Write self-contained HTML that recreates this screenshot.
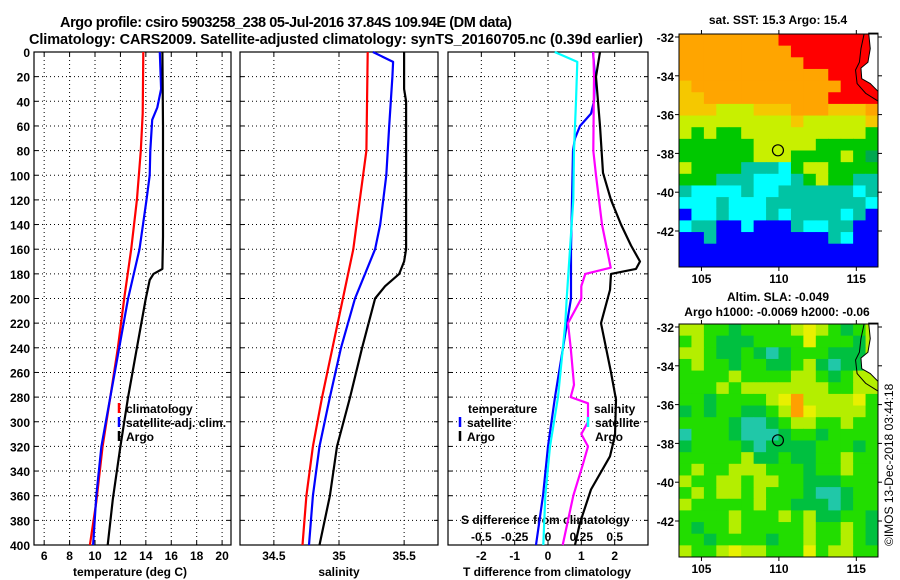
<!DOCTYPE html>
<html><head><meta charset="utf-8"><style>
html,body{margin:0;padding:0;background:#fff;width:900px;height:580px;overflow:hidden}
svg text{font-family:"Liberation Sans",Arial,sans-serif;font-weight:bold;fill:#000}
</style></head><body>
<svg id="chart" width="900" height="580" viewBox="0 0 900 580" xmlns="http://www.w3.org/2000/svg">
<text x="286" y="27" font-size="14.5" text-anchor="middle" textLength="452">Argo profile: csiro 5903258_238 05-Jul-2016 37.84S 109.94E (DM data)</text>
<text x="336" y="44" font-size="14.5" text-anchor="middle" textLength="614">Climatology: CARS2009. Satellite-adjusted climatology: synTS_20160705.nc (0.39d earlier)</text>
<text x="778" y="24" font-size="12" text-anchor="middle">sat. SST: 15.3 Argo: 15.4</text>
<text x="778" y="301" font-size="12" text-anchor="middle">Altim. SLA: -0.049</text>
<text x="777" y="316" font-size="12" text-anchor="middle">Argo h1000: -0.0069 h2000: -0.06</text>
<text transform="translate(893,546) rotate(-90)" font-size="12" style="font-weight:normal">©IMOS 13-Dec-2018 03:44:18</text>
<text x="130" y="576" font-size="12" text-anchor="middle">temperature (deg C)</text>
<text x="339" y="576" font-size="12" text-anchor="middle">salinity</text>
<text x="547" y="576" font-size="12" text-anchor="middle">T difference from climatology</text>
<text x="461" y="524" font-size="12">S difference from climatology</text>
</svg>
<script>
// ---------- data ----------
const depthTicks=[0,20,40,60,80,100,120,140,160,180,200,220,240,260,280,300,320,340,360,380,400];
const tTicks=[6,8,10,12,14,16,18,20];
const sTicks=[34.5,35,35.5];
const dtTicks=[-2,-1,0,1,2];
const dsTickLabels=["-0.5","-0.25","0","0.25","0.5"];
const dsTicks=[-0.5,-0.25,0,0.25,0.5];

const climTDepth=[0,50,80,120,160,200,240,280,320,365,400];
const climT=[13.8,13.75,13.6,13.3,12.85,12.3,11.8,11.2,10.6,10.1,9.6];
const satTDepth=[0,30,45,55,80,100,120,160,200,240,280,320,360,400];
const satT=[15.1,15.2,14.9,14.5,14.35,14.3,14.05,13.5,12.6,11.9,11.2,10.5,10.1,9.85];
const argoTDepth=[0,60,120,150,176,180,185,200,240,280,320,363,400];
const argoT=[15.3,15.35,15.35,15.35,15.3,14.6,14.3,14.0,13.3,12.6,12.0,11.4,11.0];

const climSDepth=[0,80,120,160,200,240,280,320,360,400];
const climS=[35.22,35.21,35.16,35.11,35.03,34.95,34.87,34.8,34.75,34.72];
const satSDepth=[0,8,20,60,100,140,160,200,240,280,320,360,400];
const satS=[35.26,35.415,35.41,35.385,35.363,35.316,35.277,35.123,35.015,34.93,34.85,34.8,34.77];
const argoSDepth=[0,30,40,160,170,180,190,200,240,280,320,360,400];
const argoS=[35.5,35.5,35.515,35.515,35.5,35.462,35.354,35.277,35.177,35.085,34.985,34.93,34.85];

const dTsatDepth=[0,20,40,50,60,70,80,120,160,200,240,280,320,360,400];
const dTsat=[1.35,1.41,1.38,1.29,0.96,0.81,0.75,0.72,0.69,0.69,0.45,0.21,0.0,-0.15,-0.36];
const dTargoDepth=[0,20,60,98,120,140,157,170,176,180,193,220,260,282,311,328,355,382,400];
const dTargo=[1.56,1.44,1.56,1.65,1.89,2.19,2.49,2.76,2.64,1.89,1.86,1.59,1.89,2.04,2.01,1.86,1.29,0.96,0.81];
const dSsatDepth=[0,8,40,80,120,160,200,220,280,320,360,400];
const dSsat=[0.05,0.22,0.21,0.195,0.19,0.165,0.14,0.13,0.075,0.015,-0.02,-0.035];
const dSargoDepth=[0,20,80,100,140,175,180,190,200,220,240,270,280,285,300,310,320,335,360,400];
const dSargo=[0.34,0.345,0.34,0.36,0.405,0.47,0.28,0.25,0.25,0.15,0.17,0.195,0.17,0.30,0.30,0.25,0.30,0.26,0.19,0.11];

// SST map (rows north->south, cols west->east), 103.6..116.4E, -32..-43.9
const sstRows=[
"OOOOOOOORRRRRRRR","OOOOOOOOORRRRRRR","OOOOOOOOOORRRRRR","OOOOOOOOOOOORRRR",
"YOOOOOOOOOOOORRR","YYOOOOOOOOOORRRR","YYYLLLYYYOOOYYYO","LLLLLLLLLYLLLLLY",
"LGLGGLLLLLLLLLLG","GGGGGGLLLLLGGGGG","GGGGGGLLLGGGGLGD","LGGGGTTTCGLLGGGG",
"GGGTTTCCCTGLGGTT","TCCCCTCCTTTTTTCT","CCCTCCCTTTTTTTTC","BCCTCCCTCTTTTCTB",
"CTTBBCBBBTCCTTBB","BBTBBBBBBBBBTCBB","BBBBBBBBBBBBBBBB","BBBBBBBBBBBBBBBB"];
// SLA map
const slaRows=[
"YYGGDGGGGYQYGDGY","GYGDDDGGGGQGGGDY","YYGDDGDTDGGGDDDY","GYGGDGGDDGYDTDDY",
"GGGGYGGGGYYGDGYY","GGGYGYYYYYYYGGYY","GGDGGGGYQOYYYYQG","DGDGGDDGYOQYYYYG",
"GGGGDTTDGYYGGYGG","TGGGDTTTDGGDGGGG","DGGGGDTDDDDGGGDG","GGGGGYDDGDDGGYGG",
"GYGGYYYGGGDGGYGG","YGGYYGYYGGDDDGGG","GYGYYGYGGGDTTDGG","YGGGGGYGGDDDTDGG",
"GGGGYGGGYGYDDGGD","GDGGYGGGGGYGGYGD","GGDGGGGDGGYGGYGD","YGGYQYYGGGQGYYGG"];
const mapLonTicks=[105,110,115];
const mapLatTicks=[-32,-34,-36,-38,-40,-42];
const argoLon=109.94, argoLat=-37.84;

// ---------- drawing ----------
const svg=document.getElementById('chart');
const NS='http://www.w3.org/2000/svg';
function mk(tag,attrs,parent){const e=document.createElementNS(NS,tag);for(const k in attrs)e.setAttribute(k,attrs[k]);(parent||svg).appendChild(e);return e;}
const Y0=52,Y1=545;
const yS=d=>Y0+(d/400)*(Y1-Y0);
function lin(d0,d1,r0,r1){return v=>r0+(v-d0)/(d1-d0)*(r1-r0);}

const panels=[
 {name:'temperature-panel',x0:34,x1:231,xs:lin(5.2,20.7,34,231),ticks:tTicks},
 {name:'salinity-panel',x0:240,x1:438,xs:lin(34.24,35.76,240,438),ticks:sTicks},
 {name:'difference-panel',x0:448,x1:648,xs:lin(-3,3,448,648),ticks:dtTicks}
];
panels.forEach((p,pi)=>{
  const g=mk('g',{});
  
  
  depthTicks.forEach(d=>{
    if(d>0&&d<400){const l=mk('line',{x1:p.x0,x2:p.x1,y1:yS(d),y2:yS(d),stroke:'#000','stroke-width':1,'stroke-dasharray':'1,3'},g);
    
    }
    mk('line',{x1:p.x0,x2:p.x0+4,y1:yS(d),y2:yS(d),stroke:'#000'},g);
    mk('line',{x1:p.x1,x2:p.x1-4,y1:yS(d),y2:yS(d),stroke:'#000'},g);
    if(pi===0){const t=mk('text',{x:30,y:yS(d)+5,'font-size':12,'text-anchor':'end'},svg);t.textContent=d;
      
      }
  });
  p.ticks.forEach(v=>{
    const x=p.xs(v);
    const l=mk('line',{x1:x,x2:x,y1:Y0,y2:Y1,stroke:'#000','stroke-width':1,'stroke-dasharray':'1,3'},g);
    
    
    mk('line',{x1:x,x2:x,y1:Y1,y2:Y1-4,stroke:'#000'},g);
    mk('line',{x1:x,x2:x,y1:Y0,y2:Y0+4,stroke:'#000'},g);
    const t=mk('text',{x:x,y:560,'font-size':12,'text-anchor':'middle'},svg);t.textContent=v;
    
    
  });
  const r=mk('rect',{x:p.x0,y:Y0,width:p.x1-p.x0,height:Y1-Y0,fill:'none',stroke:'#000','stroke-width':1.2},g);
  
  
});
const dsScale=lin(-0.75,0.75,448,648);
dsTicks.forEach((v,i)=>{const t=mk('text',{x:dsScale(v),y:541,'font-size':12,'text-anchor':'middle'});t.textContent=dsTickLabels[i];
  
  });

function line(depths,vals,xs,color,name){
  const pts=depths.map((d,i)=>xs(vals[i]).toFixed(1)+','+yS(d).toFixed(1)).join(' ');
  const p=mk('polyline',{points:pts,fill:'none',stroke:color,'stroke-width':2.2,'stroke-linejoin':'round'});
  
  
}
line(climTDepth,climT,panels[0].xs,'#ff0000','temp-climatology-line');
line(satTDepth,satT,panels[0].xs,'#0000ff','temp-satellite-line');
line(argoTDepth,argoT,panels[0].xs,'#000','temp-argo-line');
line(climSDepth,climS,panels[1].xs,'#ff0000','sal-climatology-line');
line(satSDepth,satS,panels[1].xs,'#0000ff','sal-satellite-line');
line(argoSDepth,argoS,panels[1].xs,'#000','sal-argo-line');
line(dTsatDepth,dTsat,panels[2].xs,'#0000ff','tdiff-satellite-line');
line(dSsatDepth,dSsat,dsScale,'#00ffff','sdiff-satellite-line');
line(dSargoDepth,dSargo,dsScale,'#ff00ff','sdiff-argo-line');
line(dTargoDepth,dTargo,panels[2].xs,'#000','tdiff-argo-line');

function legend(x,y,color,label,name){
  if(color){const m=mk('line',{x1:x,x2:x,y1:y-10,y2:y,stroke:color,'stroke-width':2.5});
    
    }
  const t=mk('text',{x:x+7,y:y,'font-size':12});t.textContent=label;
  
  
}
legend(119,413,'#ff0000','climatology','legend-climatology');
legend(119,427,'#0000ff','satellite-adj. clim.','legend-satellite-adj');
legend(119,441,'#000','Argo','legend-argo');
legend(461,413,null,'temperature','legend-temperature-heading');
legend(460,427,'#0000ff','satellite','legend-t-satellite');
legend(460,441,'#000','Argo','legend-t-argo');
legend(587,413,null,'salinity','legend-salinity-heading');
legend(588,427,'#00ffff','satellite','legend-s-satellite');
legend(588,441,null,'Argo','legend-s-argo');

// maps
const sstCol={R:'#ff0000',O:'#ffa500',Y:'#f5c800',L:'#c8f000',G:'#00c800',D:'#00a850',T:'#00c4a4',C:'#00ffff',B:'#0000ff',W:'#ffffff'};
const slaCol={G:'#22dd00',Y:'#b4ee00',Q:'#e8f000',D:'#00c040',T:'#20c8a8',O:'#ffa000',W:'#ffffff'};
function drawMap(rows,cols,top,bottom,name){
  const x0=679,x1=878;
  const lx=lin(103.55,116.4,x0,x1), ly=lin(-32,-42,top+3,top+3+194);
  const g=mk('g',{});
  
  
  const nr=rows.length,nc=rows[0].length,cw=(x1-x0)/nc,ch=(bottom-top)/nr;
  rows.forEach((row,ri)=>{[...row].forEach((c,ci)=>{
    mk('rect',{x:x0+ci*cw,y:top+ri*ch,width:cw+0.5,height:ch+0.5,fill:cols[c]},g);
  });});
  const land=mk('polygon',{points:[[115.8,-31.8],[116.4,-31.8],[116.4,-34.8],[115.9,-34.4],[115.35,-34.15],[115.3,-33.6],[115.75,-33.3],[115.9,-32.6]].map(p=>lx(p[0])+','+ly(p[1])).join(' '),fill:'#fff',stroke:'#000','stroke-width':1},g);
  
  
  const coast=mk('polyline',{points:[[115.5,-31.85],[115.3,-32.6],[115.2,-33.3],[114.95,-33.7],[115.05,-34.4],[115.6,-34.9],[116.4,-35.3]].map(p=>lx(p[0])+','+ly(p[1])).join(' '),fill:'none',stroke:'#000','stroke-width':1},g);
  
  
  const fr=mk('rect',{x:x0,y:top,width:x1-x0,height:bottom-top,fill:'none',stroke:'#000','stroke-width':1},g);
  
  
  mapLonTicks.forEach(v=>{const x=lx(v);
    mk('line',{x1:x,x2:x,y1:bottom,y2:bottom+4,stroke:'#000'},g);
    mk('line',{x1:x,x2:x,y1:top,y2:top-4,stroke:'#000'},g);
    const t=mk('text',{x:x,y:bottom+16,'font-size':12,'text-anchor':'middle'});t.textContent=v;
    
    });
  mapLatTicks.forEach(v=>{const y=ly(v);
    mk('line',{x1:x0,x2:x0-4,y1:y,y2:y,stroke:'#000'},g);
    mk('line',{x1:x1,x2:x1+4,y1:y,y2:y,stroke:'#000'},g);
    const t=mk('text',{x:674,y:y+5,'font-size':12,'text-anchor':'end'});t.textContent=v;
    
    });
  const c=mk('circle',{cx:lx(argoLon),cy:ly(argoLat),r:5.5,fill:'none',stroke:'#000','stroke-width':1.2},g);
  
  
}
drawMap(sstRows,sstCol,34,267,'sst-map');
drawMap(slaRows,slaCol,324,557,'sla-map');
</script>
</body></html>
